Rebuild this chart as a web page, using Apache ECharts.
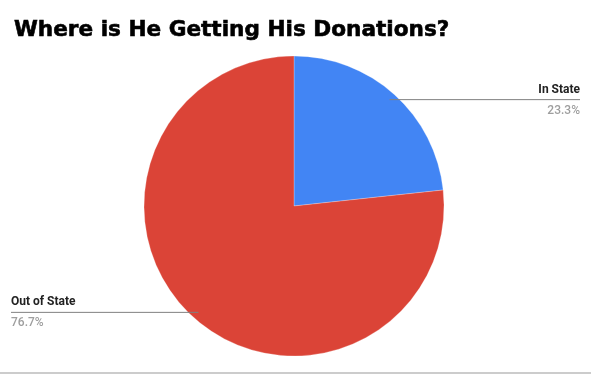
<!DOCTYPE html>
<html><head><meta charset="utf-8">
<script src="https://cdn.jsdelivr.net/npm/echarts@6/dist/echarts.min.js"></script>
<style>html,body{margin:0;padding:0;background:#fff}#c{width:591px;height:374px}</style>
</head><body><div id="c"></div>
<script>
const titleText = 'Where is He Getting His Donations?';
const categories = ['In State', 'Out of State'];
const values = [23.3, 76.7];
const colors = ['#4285F4', '#DB4437'];

const chart = echarts.init(document.getElementById('c'), null, {renderer: 'canvas'});
const data = categories.map((c, i) => ({name: c, value: values[i], itemStyle: {color: colors[i]}}));
const labelData = categories.map((c, i) => ({name: c, value: values[i]}));

chart.setOption({
  animation: false,
  backgroundColor: '#fff',
  title: {
    text: titleText, left: 9, top: 14,
    textStyle: {fontFamily: 'DejaVu Sans', fontWeight: 'bold', fontSize: 21.6, color: '#000',
      textBorderColor: '#000', textBorderWidth: 0.6}
  },
  graphic: [{type: 'rect', shape: {x: 0, y: 372, width: 591, height: 2}, style: {fill: '#cccccc'}, silent: true}],
  series: [
    {
      type: 'pie', center: [294, 206], radius: 150, startAngle: 90, clockwise: true,
      silent: true, label: {show: false}, labelLine: {show: false},
      itemStyle: {borderColor: 'rgba(255,255,255,0.5)', borderWidth: 0.5},
      data: data
    },
    {
      type: 'pie', center: [294, 206], radius: 143, startAngle: 90, clockwise: true,
      silent: true, z: 5,
      itemStyle: {color: 'rgba(0,0,0,0)'},
      label: {
        show: true, position: 'outside', alignTo: 'edge', edgeDistance: 11,
        formatter: p => '{n|' + p.name + '}\n{v|' + p.value.toFixed(1) + '%}',
        rich: {
          n: {fontFamily: 'Roboto', fontWeight: 'bold', fontSize: 12, color: '#222', lineHeight: 22},
          v: {fontFamily: 'Roboto', fontWeight: 500, fontSize: 12, color: '#9e9e9e', lineHeight: 20}
        }
      },
      labelLine: {show: true, length: 0, length2: 10, smooth: false, lineStyle: {color: '#808080', width: 1}},
      labelLayout: function (params) {
        const pts = params.labelLinePoints;
        if (!pts) return {};
        const r = params.labelRect;
        const last = pts[pts.length - 1];
        const first = pts[0];
        const np = pts.map(p => p.slice());
        if (last[0] > first[0]) np[np.length - 1][0] = r.x + r.width;
        else np[np.length - 1][0] = r.x;
        return {labelLinePoints: np};
      },
      data: labelData
    }
  ]
});
</script>
</body></html>
